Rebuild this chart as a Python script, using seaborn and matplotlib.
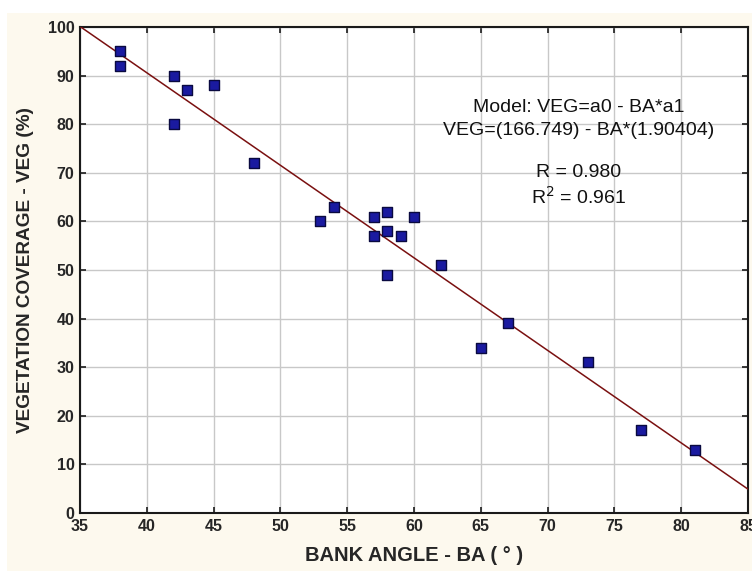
import numpy as np
import pandas as pd
import matplotlib
matplotlib.use("Agg")
import matplotlib.pyplot as plt
import seaborn as sns
from matplotlib.patches import Rectangle

bank_angle = [38, 38, 42, 42, 43, 45, 48, 53, 54, 57, 57, 58, 58, 58, 59, 60, 62, 65, 67, 73, 77, 81]
veg_cover = [95, 92, 90, 80, 87, 88, 72, 60, 63, 61, 57, 62, 58, 49, 57, 61, 51, 34, 39, 31, 17, 13]
a0 = 166.749
a1 = 1.90404
xticks = [35, 40, 45, 50, 55, 60, 65, 70, 75, 80, 85]
yticks = [0, 10, 20, 30, 40, 50, 60, 70, 80, 90, 100]

df = pd.DataFrame({"BA": bank_angle, "VEG": veg_cover})

sns.set_theme(style="white")
plt.rcParams['font.family'] = ['Liberation Sans', 'DejaVu Sans']

cream = "#fdf9ee"
fig = plt.figure(figsize=(7.52, 5.71), dpi=100, facecolor=cream)
fig.patches.append(Rectangle((0, 1 - 13/571), 1, 13/571, transform=fig.transFigure,
                             facecolor="white", edgecolor="none", zorder=-1))
fig.patches.append(Rectangle((0, 0), 7/752, 1, transform=fig.transFigure,
                             facecolor="white", edgecolor="none", zorder=-1))
ax = fig.add_axes([80/752, 1 - 513/571, 668/752, 486/571])
ax.set_facecolor("white")

xs = np.array([xticks[0], xticks[-1]])
sns.lineplot(x=xs, y=a0 - a1 * xs, ax=ax, color="#7a1010", linewidth=1.1, zorder=3)
sns.scatterplot(data=df, x="BA", y="VEG", ax=ax, marker="s", s=55,
                color="#1a1aa0", edgecolor="#0a0a40", linewidth=1.0, zorder=4)

ax.set_xlim(35, 85)
ax.set_ylim(0, 100)
ax.set_xticks(xticks)
ax.set_yticks(yticks)
ax.grid(True, color="#c8c8c8", linewidth=1.0)
ax.set_axisbelow(True)
for sp in ax.spines.values():
    sp.set_color("#1a1a1a")
    sp.set_linewidth(1.5)
    sp.set_visible(True)
ax.tick_params(direction="in", top=True, right=True, left=True, bottom=True,
               length=4, width=1.2, color="#1a1a1a", labelsize=11.5, pad=4)
for lab in ax.get_xticklabels() + ax.get_yticklabels():
    lab.set_fontweight("bold")

ax.set_xlabel("BANK ANGLE - BA ( ° )", fontsize=14.5, fontweight="bold", labelpad=9)
ax.set_ylabel("VEGETATION COVERAGE - VEG (%)", fontsize=13.7, fontweight="bold", labelpad=10)

tx = 72.3
ax.text(tx, 83.5, "Model: VEG=a0 - BA*a1", ha="center", va="center", fontsize=14, color="#111111")
ax.text(tx, 78.8, "VEG=(166.749) - BA*(1.90404)", ha="center", va="center", fontsize=14, color="#111111")
ax.text(tx, 70.0, "R = 0.980", ha="center", va="center", fontsize=14, color="#111111")
ax.text(tx, 65.0, "R$^2$ = 0.961", ha="center", va="center", fontsize=14, color="#111111")

fig.savefig("out.png", dpi=100, facecolor=fig.get_facecolor())
